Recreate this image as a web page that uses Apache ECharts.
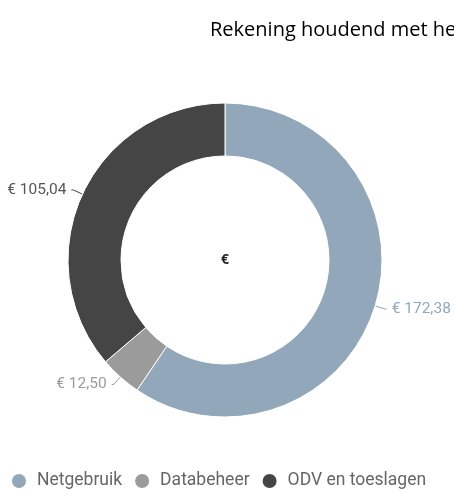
<!DOCTYPE html>
<html>
<head>
<meta charset="utf-8">
<script src="https://cdn.jsdelivr.net/npm/echarts@6/dist/echarts.min.js"></script>
<style>
  html, body { margin: 0; padding: 0; background: #fff; }
  #chart { width: 454px; height: 502px; }
</style>
</head>
<body>
<div id="chart"></div>
<script>
// categorieen en bedragen
const categories = ['Netgebruik', 'Databeheer', 'ODV en toeslagen'];
const amounts = [172.38, 12.50, 105.04];
const colors = ['#93a7ba', '#9b9b9b', '#454545'];

const chart = echarts.init(document.getElementById('chart'));

const fmt = v => '€ ' + v.toFixed(2).replace('.', ',');

chart.setOption({
  animation: false,
  title: {
    text: 'Rekening houdend met het',
    left: 205,
    top: 15,
    textStyle: { fontFamily: 'Open Sans', fontSize: 20, fontWeight: 'normal', color: '#000' }
  },
  graphic: [{
    type: 'text',
    x: 225,
    y: 260,
    style: { text: '€', font: 'bold 14px "Open Sans"', fill: '#222', align: 'center', verticalAlign: 'middle' }
  }],
  legend: {
    bottom: 12,
    left: 10,
    padding: 0,
    icon: 'circle',
    itemWidth: 16,
    itemHeight: 16,
    itemGap: 11,
    textStyle: { fontFamily: 'Roboto', fontSize: 17.5, color: '#666', padding: [0, 0, 0, 5] },
    data: categories
  },
  series: [{
    type: 'pie',
    center: [225, 260],
    radius: [104, 157],
    startAngle: 90,
    clockwise: true,
    itemStyle: { borderColor: '#fff', borderWidth: 1 },
    label: {
      formatter: p => fmt(p.value),
      fontFamily: 'Roboto',
      fontSize: 15.5,
      overflow: 'none'
    },
    labelLine: { length: 10, length2: 2, lineStyle: { width: 1 } },
    data: categories.map((c, i) => ({
      name: c,
      value: amounts[i],
      itemStyle: { color: colors[i] },
      label: { color: i === 2 ? '#555' : colors[i] }
    }))
  }]
});
</script>
</body>
</html>
